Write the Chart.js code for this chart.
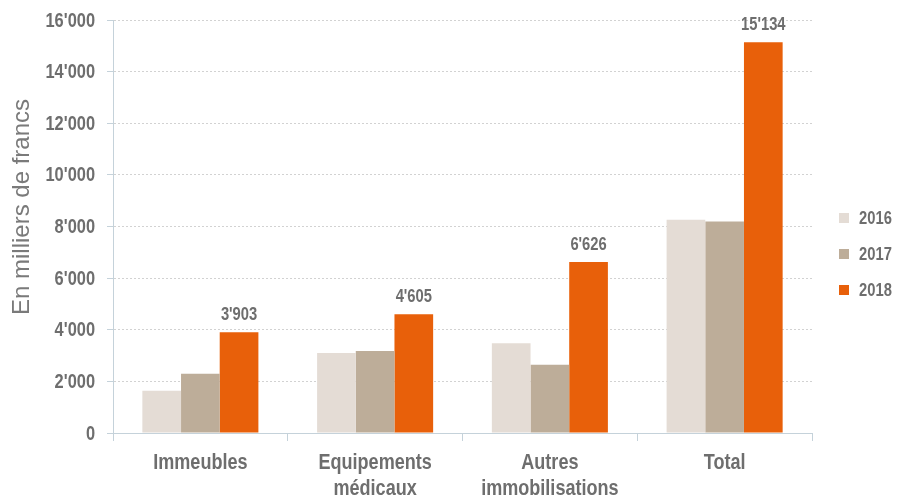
<!DOCTYPE html>
<html>
<head>
<meta charset="utf-8">
<script src="https://cdn.jsdelivr.net/npm/chart.js@4.4.1/dist/chart.umd.min.js"></script>
<style>
html,body{margin:0;padding:0;background:#fff;}
#wrap{width:900px;height:502px;position:relative;}
</style>
</head>
<body>
<div id="wrap"><canvas id="c" width="900" height="502"></canvas></div>
<script>
const categories = [["Immeubles"], ["Equipements", "médicaux"], ["Autres", "immobilisations"], ["Total"]];
const seriesLabels = ["2016", "2017", "2018"];
const values2016 = [1640, 3100, 3480, 8260];
const values2017 = [2300, 3180, 2640, 8190];
const values2018 = [3903, 4605, 6626, 15134];
const yTicks = [0, 2000, 4000, 6000, 8000, 10000, 12000, 14000, 16000];
const yTitle = "En milliers de francs";
const colors = ["#E4DCD5", "#BDAD99", "#E8600A"];

const fmt = v => String(Math.round(v)).replace(/\B(?=(\d{3})+(?!\d))/g, "'");
const FONT = "'Liberation Sans', Arial, sans-serif";
const TEXT = "#6e6e6e";
const SQUEEZE = 0.82; // narrow (condensed) look of the original lettering

function narrowText(ctx, text, x, y, align) {
  ctx.save();
  ctx.translate(x, y);
  ctx.scale(SQUEEZE, 1);
  ctx.textAlign = align;
  ctx.fillText(text, 0, 0);
  ctx.restore();
}

const axisLabelPlugin = {
  id: 'axisLabels',
  afterDraw(chart) {
    const ctx = chart.ctx;
    const xs = chart.scales.x, ys = chart.scales.y;
    ctx.save();
    ctx.fillStyle = TEXT;
    ctx.textBaseline = 'alphabetic';
    ctx.font = "bold 22px " + FONT;
    chart.data.labels.forEach((lab, i) => {
      const cx = xs.getPixelForTick(i);
      lab.forEach((line, j) => narrowText(ctx, line, cx, xs.bottom - 69 + 36 + j * 26, 'center'));
    });
    ctx.font = "bold 20px " + FONT;
    ctx.textBaseline = 'middle';
    ys.ticks.forEach(t => {
      narrowText(ctx, fmt(t.value), ys.right - 18, ys.getPixelForValue(t.value) + 1, 'right');
    });
    ctx.restore();
  }
};

const labelPlugin = {
  id: 'labels2018',
  afterDatasetsDraw(chart) {
    const ctx = chart.ctx;
    const meta = chart.getDatasetMeta(2);
    ctx.save();
    ctx.font = "bold 18px " + FONT;
    ctx.fillStyle = TEXT;
    ctx.textBaseline = 'alphabetic';
    meta.data.forEach((bar, i) => {
      narrowText(ctx, fmt(chart.data.datasets[2].data[i]), bar.x, bar.y - 12, 'center');
    });
    ctx.restore();
  }
};

const legendPlugin = {
  id: 'sideLegend',
  afterDraw(chart) {
    const ctx = chart.ctx;
    const x0 = chart.chartArea.right + 27;
    const yMid = 254;
    ctx.save();
    ctx.font = "bold 18px " + FONT;
    ctx.textBaseline = 'middle';
    chart.data.datasets.forEach((ds, i) => {
      const y = yMid + (i - 1) * 36;
      ctx.fillStyle = ds.backgroundColor;
      ctx.fillRect(x0, y - 5, 10, 10);
      ctx.fillStyle = TEXT;
      narrowText(ctx, ds.label, x0 + 20, y + 1, 'left');
    });
    ctx.restore();
  }
};

const titlePlugin = {
  id: 'yTitle',
  afterDraw(chart) {
    const ctx = chart.ctx;
    ctx.save();
    ctx.translate(22, 207);
    ctx.rotate(-Math.PI / 2);
    ctx.font = "24px " + FONT;
    ctx.fillStyle = "#7a7a7a";
    ctx.textAlign = 'center';
    ctx.textBaseline = 'middle';
    ctx.fillText(yTitle, 0, 0);
    ctx.restore();
  }
};

new Chart(document.getElementById('c'), {
  type: 'bar',
  data: {
    labels: categories,
    datasets: [
      { label: seriesLabels[0], data: values2016, backgroundColor: colors[0] },
      { label: seriesLabels[1], data: values2017, backgroundColor: colors[1] },
      { label: seriesLabels[2], data: values2018, backgroundColor: colors[2] }
    ]
  },
  options: {
    responsive: false,
    animation: false,
    devicePixelRatio: 1,
    layout: { padding: { top: 20, right: 88, left: 0, bottom: 0 } },
    datasets: { bar: { categoryPercentage: 0.664, barPercentage: 1.0, borderWidth: 0 } },
    plugins: { legend: { display: false }, tooltip: { enabled: false } },
    scales: {
      x: {
        grid: { drawOnChartArea: false, offset: true, tickLength: 8, tickColor: "#c5d2da", color: "#c5d2da" },
        border: { color: "#c5d2da", width: 1 },
        ticks: { display: false },
        afterFit(scale) { scale.height = 69; }
      },
      y: {
        min: 0, max: 16000,
        afterBuildTicks(scale) { scale.ticks = yTicks.map(v => ({ value: v })); },
        grid: { color: "#d2d2d2", lineWidth: 1, tickLength: 6, tickColor: "#c5d2da", tickBorderDash: [] },
        border: { color: "#c5d2da", width: 1, dash: [2, 2] },
        ticks: { display: false },
        afterFit(scale) { scale.width = 113; }
      }
    }
  },
  plugins: [labelPlugin, axisLabelPlugin, legendPlugin, titlePlugin]
});
</script>
</body>
</html>
